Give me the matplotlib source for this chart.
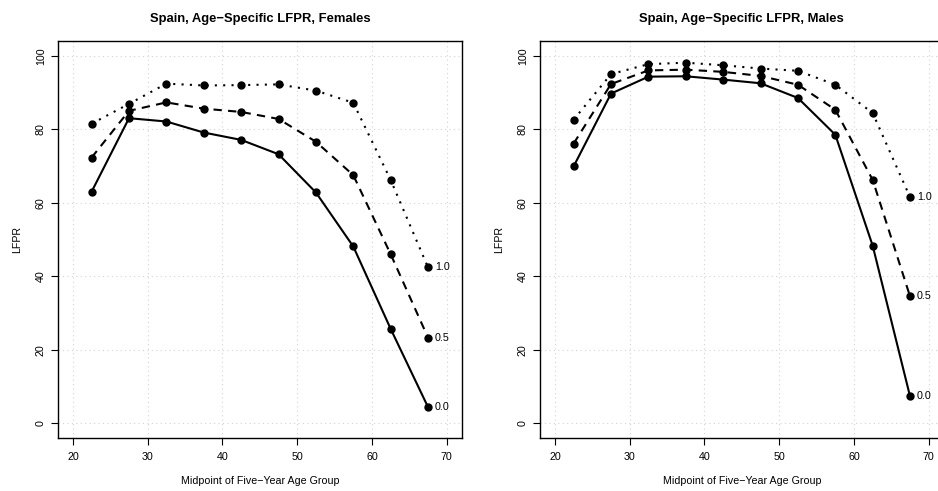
import matplotlib.pyplot as plt

plt.rcParams['font.family'] = ['Liberation Sans', 'DejaVu Sans']

# Midpoints of five-year age groups
ages = [22.5, 27.5, 32.5, 37.5, 42.5, 47.5, 52.5, 57.5, 62.5, 67.5]
scenarios = ["0.0", "0.5", "1.0"]

female_00 = [63.0, 83.0, 82.1, 79.1, 77.1, 73.2, 62.8, 48.1, 25.7, 4.4]
female_05 = [72.3, 85.0, 87.3, 85.6, 84.7, 82.8, 76.6, 67.5, 46.0, 23.3]
female_10 = [81.5, 86.9, 92.4, 91.9, 92.0, 92.2, 90.5, 87.2, 66.2, 42.4]

male_00 = [69.9, 89.7, 94.3, 94.4, 93.5, 92.5, 88.5, 78.5, 48.3, 7.3]
male_05 = [76.1, 92.3, 96.0, 96.2, 95.6, 94.5, 92.1, 85.3, 66.2, 34.5]
male_10 = [82.6, 95.0, 97.7, 98.1, 97.4, 96.5, 95.9, 92.1, 84.4, 61.5]

panels = [
    ("Spain, Age\u2212Specific LFPR, Females", [female_00, female_05, female_10]),
    ("Spain, Age\u2212Specific LFPR, Males", [male_00, male_05, male_10]),
]

# solid, dashed, dotted (R style dash patterns)
styles = [(0, ()), (0, (4, 3)), (0, (1, 3))]

fig = plt.figure(figsize=(9.38, 4.91), dpi=100)
lefts = [0.0618, 0.5757]

for left, (title, series) in zip(lefts, panels):
    ax = fig.add_axes([left, 0.1079, 0.4304, 0.8086])
    ax.set_xlim(18, 72)
    ax.set_ylim(-4, 104)
    ax.set_xticks(range(20, 71, 10))
    ax.set_yticks(range(0, 101, 20))
    ax.grid(True, color="#d3d3d3", linestyle=(0, (1, 3)), linewidth=0.8)
    ax.set_axisbelow(True)

    for vals, ls, lab in zip(series, styles, scenarios):
        ax.plot(ages, vals, color="black", linestyle=ls, linewidth=1.5,
                marker="o", markersize=5)
        ax.text(ages[-1] + 0.9, vals[-1], lab, fontsize=7.7, va="center", ha="left")

    ax.set_title(title, fontsize=9.4, fontweight="bold", pad=14)
    ax.set_xlabel("Midpoint of Five\u2212Year Age Group", fontsize=7.7, labelpad=10)
    ax.set_ylabel("LFPR", fontsize=7.7, labelpad=10)
    ax.tick_params(direction="out", length=4.8, width=0.8, labelsize=7.7)
    ax.tick_params(axis="x", pad=5)
    ax.tick_params(axis="y", pad=4)
    for lbl in ax.get_yticklabels():
        lbl.set_rotation(90)
        lbl.set_va("center")
    for sp in ax.spines.values():
        sp.set_linewidth(1.0)

fig.savefig("out.png", dpi=100)
